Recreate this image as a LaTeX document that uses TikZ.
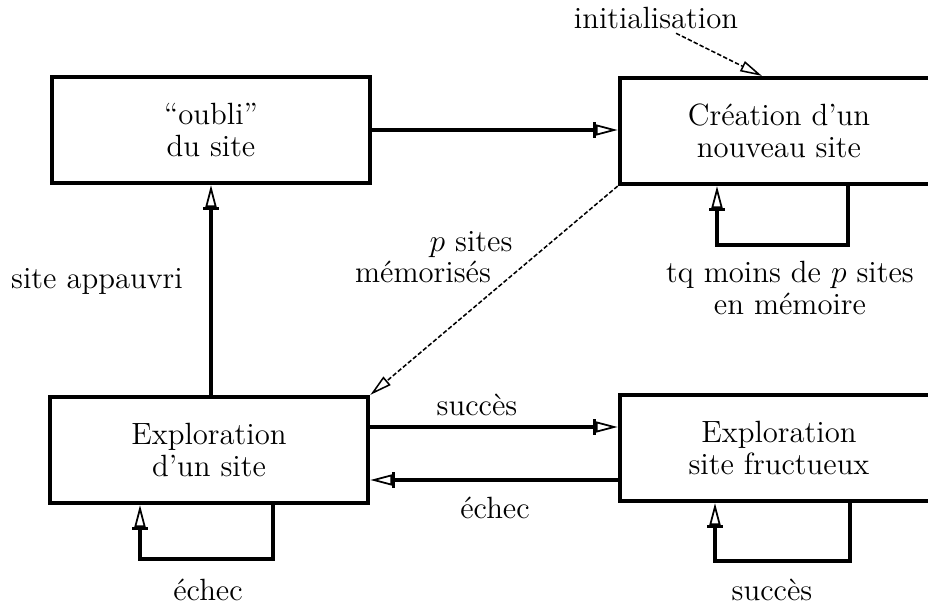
\documentclass[tikz,border=0pt]{standalone}
\usepackage{tikz}
\usetikzlibrary{calc,arrows.meta}
\tikzset{
  box/.style={draw, line width=1.8pt, minimum width=5.1cm, minimum height=1.7cm,
    align=center, inner sep=0pt},
  conn/.style={line width=1.8pt, -{Bar[width=7pt,line width=1.2pt]Triangle[open,length=10pt,width=5pt,line width=0.8pt]}},
  thin/.style={line width=0.7pt, dash pattern=on 2pt off 1pt,
    -{Triangle[open,length=10pt,width=5pt,line width=0.7pt]}},
  lbl/.style={align=center, inner sep=0pt}
}

\begin{document}
\begin{tikzpicture}[x=0.016cm, y=-0.016cm, font=\fontsize{14}{14.5}\selectfont]
  \useasboundingbox (0,0) rectangle (928,606);
  \clip (0,0) rectangle (928,606);

  % boites
  \node[box] (oub) at (211,130) {``oubli''\\du site};
  \node[box] (cre) at (779,131) {Cr\'eation d'un\\nouveau site};
  \node[box] (exp) at (209,450) {Exploration\\d'un site};
  \node[box] (fru) at (779,448) {Exploration\\site fructueux};

  % liens
  \draw[conn] (oub.east) -- (oub.east -| cre.west);
  \draw[conn] (exp.north -| oub.south) -- (oub.south);
  \draw[conn] ($(exp.east)+(0,-23)$) -- ($(exp.east -| fru.west)+(0,-23)$);
  \draw[conn] ($(fru.west)+(0,32)$) -- ($(fru.west -| exp.east)+(0,32)$);
  \draw[thin] (cre.south west) -- (exp.north east);

  % boucles
  \draw[conn] ($(cre.south)+(69,0)$) -- ++(0,59) -| ($(cre.south)+(-62,0)$);
  \draw[conn] ($(exp.south)+(64,0)$) -- ++(0,54) -| ($(exp.south)+(-69,0)$);
  \draw[conn] ($(fru.south)+(71,0)$) -- ++(0,58) -| ($(fru.south)+(-64,0)$);

  % initialisation
  \node[lbl] (init) at (656,18) {initialisation};
  \draw[thin] ($(init.south)+(20,4)$) -- ($(cre.north)+(-17,0)$);

  % textes
  \node[lbl] (appauvri) at (97,281) {site appauvri};
  \node[lbl] (psites) at (471,245) {$p$ sites};
  \node[lbl] (memo) at (423,272) {m\'emoris\'es};
  \node[lbl] (tq) at (790,288) {tq moins de $p$ sites\\en m\'emoire};
  \node[lbl] (succes) at (477,405) {succ\`es};
  \node[lbl] (echec) at (495,508) {\'echec};
  \node[lbl] (echecb) at (208,590) {\'echec};
  \node[lbl] (succesb) at (772,590) {succ\`es};
\end{tikzpicture}
\end{document}
